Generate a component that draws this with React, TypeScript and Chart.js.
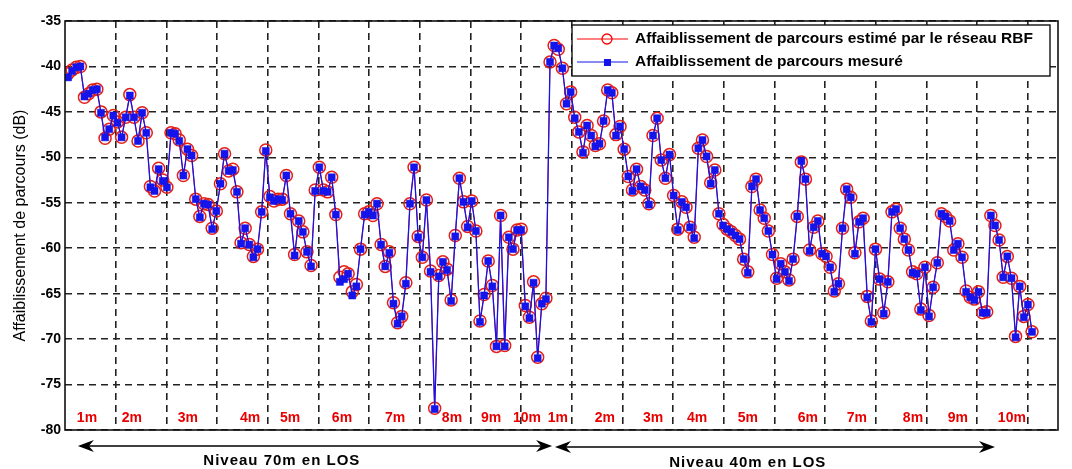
import React, { useEffect, useRef } from "react";
import { Chart, registerables } from "chart.js";

Chart.register(...registerables);

// ---- data (path loss in dB, one value per measurement sample) ----
const measured70m: number[] = [
  -41.2, -40.5, -40.1, -40.0, -43.3, -43.0, -42.6, -42.5, -45.1, -47.8,
  -46.9, -45.4, -46.2, -47.8, -45.6, -43.2, -45.6, -48.2, -45.1, -47.3,
  -53.3, -53.7, -51.3, -52.6, -53.3, -47.3, -47.4, -48.2, -52.0, -49.1,
  -49.8, -54.6, -56.6, -55.1, -55.2, -57.9, -55.9, -52.9, -49.6, -51.5,
  -51.4,
  -53.8, -59.5, -57.8, -59.6, -61.0, -60.1, -56.0, -49.3, -54.4, -54.8,
  -54.6, -54.7, -52.0, -56.2, -60.8, -57.0, -58.2, -60.4, -62.0, -53.7,
  -51.1, -53.7, -53.8, -52.2, -56.3, -63.7, -63.4, -62.8, -65.2, -64.2,
  -60.1, -56.3, -56.0, -56.4, -55.1, -59.6, -62.0, -60.5, -66.1, -68.3,
  -67.5, -63.9, -55.1, -51.1, -58.8, -61.0, -54.7, -62.6, -77.7, -63.1,
  -61.5, -62.4, -65.8, -58.7, -52.3, -54.9, -57.7, -54.8, -58.1, -68.1,
  -65.2, -61.4, -64.2, -70.8, -56.4, -70.8, -58.8, -60.1, -58.0, -58.0,
  -66.4, -67.7, -63.8, -72.1, -66.1, -65.6,
];

const measured40m: number[] = [
  -39.5, -37.7, -38.0, -40.2, -44.1, -42.8, -45.7, -47.2, -49.5, -46.5,
  -47.6, -48.8, -48.5, -46.0, -42.6, -42.9, -47.6, -46.6, -49.1, -52.1,
  -53.7, -51.3, -53.2, -53.6, -55.2, -47.6, -45.7, -50.3, -52.3, -49.7,
  -54.2, -58.0, -54.9, -55.5, -57.7, -58.9, -49.0, -48.1, -49.9, -52.9,
  -51.4, -56.2, -57.5,
  -57.9, -58.2, -58.6, -59.0, -61.2, -62.7, -53.2, -52.4, -55.8, -56.7,
  -58.1, -60.7, -63.4, -61.7, -62.6, -63.6, -61.2, -56.5, -50.4, -52.4,
  -60.3, -57.7, -57.0, -60.6, -60.9, -62.1, -64.8, -63.9, -57.8, -53.5,
  -54.4, -60.6, -57.1, -56.7, -65.4, -68.1, -60.1, -63.4, -67.2, -63.7,
  -56.0,
  -55.7, -57.8, -59.0, -60.2, -62.7, -62.8, -66.8, -62.1, -67.5, -64.3,
  -61.6, -56.2, -56.5, -57.0, -60.2, -59.5, -61.0, -64.8, -65.4, -65.7,
  -64.8, -67.1, -67.1, -56.4, -57.5, -59.1, -63.2, -60.9, -63.3, -69.8,
  -64.2, -67.6, -66.2, -69.2,
];

const estimated70m: number[] = [
  -40.8, -40.4, -40.1, -40.0, -43.4, -43.0, -42.6, -42.5, -45.0, -47.9,
  -46.9, -45.4, -46.1, -47.8, -45.6, -43.1, -45.6, -48.2, -45.1, -47.3,
  -53.2, -53.7, -51.2, -52.5, -53.3, -47.3, -47.4, -48.1, -52.0, -49.1,
  -49.8, -54.6, -56.5, -55.1, -55.2, -57.8, -55.9, -52.9, -49.6, -51.5,
  -51.3,
  -53.8, -59.4, -57.8, -59.6, -60.9, -60.1, -56.0, -49.2, -54.3, -54.8,
  -54.6, -54.6, -52.0, -56.2, -60.7, -57.0, -58.2, -60.4, -61.9, -53.6,
  -51.1, -53.6, -53.8, -52.2, -56.3, -63.2, -62.6, -62.8, -64.8, -64.0,
  -60.1, -56.2, -56.0, -56.4, -55.1, -59.6, -62.0, -60.4, -66.0, -68.2,
  -67.5, -63.8, -55.1, -51.1, -58.7, -61.0, -54.7, -62.5, -77.6, -63.0,
  -61.5, -62.3, -65.7, -58.6, -52.3, -54.9, -57.6, -54.8, -58.1, -68.0,
  -65.1, -61.4, -64.1, -70.8, -56.4, -70.7, -58.8, -60.1, -58.0, -57.9,
  -66.3, -67.6, -63.7, -72.0, -66.1, -65.5,
];

const estimated40m: number[] = [
  -39.5, -37.7, -38.1, -40.2, -44.1, -42.8, -45.6, -47.2, -49.4, -46.5,
  -47.6, -48.7, -48.5, -46.0, -42.6, -42.9, -47.5, -46.6, -49.1, -52.1,
  -53.6, -51.3, -53.2, -53.6, -55.1, -47.6, -45.7, -50.3, -52.3, -49.7,
  -54.2, -57.9, -54.9, -55.5, -57.7, -58.8, -49.0, -48.1, -49.9, -52.8,
  -51.4, -56.2, -57.4,
  -57.9, -58.2, -58.6, -59.0, -61.2, -62.6, -53.2, -52.4, -55.8, -56.7,
  -58.1, -60.7, -63.3, -61.7, -62.6, -63.5, -61.2, -56.5, -50.5, -52.4,
  -60.2, -57.7, -57.0, -60.6, -60.9, -62.1, -64.7, -63.9, -57.8, -53.5,
  -54.4, -60.5, -57.1, -56.7, -65.3, -68.0, -60.1, -63.4, -67.1, -63.7,
  -56.0,
  -55.7, -57.8, -59.0, -60.2, -62.6, -62.8, -66.7, -62.1, -67.4, -64.3,
  -61.6, -56.2, -56.5, -57.0, -60.2, -59.5, -61.0, -64.7, -65.4, -65.6,
  -64.8, -67.1, -67.0, -56.4, -57.5, -59.1, -63.2, -60.9, -63.3, -69.7,
  -64.2, -67.5, -66.2, -69.2,
];

const seriesNames: string[] = [
  "Affaiblissement de parcours estimé par le réseau RBF",
  "Affaiblissement de parcours mesuré",
];
const yAxisTitle = "Affaiblissement de parcours (dB)";
const yTickValues: number[] = [-80, -75, -70, -65, -60, -55, -50, -45, -40, -35];

// distance labels (per level) and their centre, in sample-index units
const distanceLabels: string[] = ["1m", "2m", "3m", "4m", "5m", "6m", "7m", "8m", "9m", "10m"];
const distanceCentres70m: number[] = [4.6, 15.5, 29.1, 44.2, 53.9, 66.5, 79.4, 93.2, 102.7, 111.4];
const distanceCentres40m: number[] = [118.9, 130.3, 142.0, 152.7, 165.0, 179.6, 191.5, 205.1, 216.0, 229.1];
const distanceLabelLevel = -78.7;

// level annotations below the axis (sample-index units)
const levelTitles: string[] = ["Niveau 70m en LOS", "Niveau 40m en LOS"];
const levelSpans: number[][] = [
  [2.4, 117.5],
  [118.2, 225.0],
];
const levelTitleCentres: number[] = [51.9, 165.0];

// axis range
const X_MIN = -0.73;
const X_MAX = 240.3;
const X_GRID_STEP = 12.3;
const Y_MIN = -80;
const Y_MAX = -35;

const FONT = '"Liberation Sans", Arial, Helvetica, sans-serif';

function toPoints(values: number[]) {
  return values.map((v, i) => ({ x: i, y: v }));
}

const overlayPlugin = {
  id: "overlay",
  afterDraw(chart: any) {
    const { ctx, chartArea: a, scales } = chart;
    const x = scales.x;
    const y = scales.y;
    ctx.save();
    ctx.setLineDash([]);

    // axes box
    ctx.strokeStyle = "#111";
    ctx.lineWidth = 1.6;
    ctx.strokeRect(a.left, a.top, a.right - a.left, a.bottom - a.top);

    // y-axis title
    ctx.save();
    ctx.translate(21, (a.top + a.bottom) / 2);
    ctx.rotate(-Math.PI / 2);
    ctx.fillStyle = "#000";
    ctx.font = `16px ${FONT}`;
    ctx.textAlign = "center";
    ctx.textBaseline = "middle";
    ctx.fillText(yAxisTitle, 0, 0);
    ctx.restore();

    // red distance labels
    ctx.fillStyle = "rgb(232,0,0)";
    ctx.font = `bold 14px ${FONT}`;
    ctx.textAlign = "center";
    ctx.textBaseline = "middle";
    const ly = y.getPixelForValue(distanceLabelLevel);
    [distanceCentres70m, distanceCentres40m].forEach((centres) => {
      centres.forEach((c, i) => {
        ctx.fillText(distanceLabels[i], x.getPixelForValue(c), ly);
      });
    });

    // level arrows and captions
    ctx.strokeStyle = "#000";
    ctx.fillStyle = "#000";
    ctx.lineWidth = 1.6;
    const head = (tipX: number, tipY: number, dir: number) => {
      ctx.beginPath();
      ctx.moveTo(tipX, tipY);
      ctx.lineTo(tipX - dir * 16, tipY - 6);
      ctx.lineTo(tipX - dir * 11, tipY);
      ctx.lineTo(tipX - dir * 16, tipY + 6);
      ctx.closePath();
      ctx.fill();
    };
    levelSpans.forEach((span, i) => {
      const ay = a.bottom + 16 + i;
      const x1 = x.getPixelForValue(span[0]);
      const x2 = x.getPixelForValue(span[1]);
      ctx.beginPath();
      ctx.moveTo(x1 + 6, ay);
      ctx.lineTo(x2 - 6, ay);
      ctx.stroke();
      head(x1, ay, -1);
      head(x2, ay, 1);
    });
    ctx.font = `bold 15px ${FONT}`;
    (ctx as any).letterSpacing = "1px";
    ctx.textAlign = "center";
    ctx.textBaseline = "middle";
    levelTitles.forEach((t, i) => {
      ctx.fillText(t, x.getPixelForValue(levelTitleCentres[i]), a.bottom + 31 + i * 2);
    });
    (ctx as any).letterSpacing = "0px";

    // legend box
    const bx = a.right - 486;
    const by = a.top + 4;
    const bw = 478;
    const bh = 51;
    ctx.fillStyle = "#fff";
    ctx.fillRect(bx, by, bw, bh);
    ctx.strokeStyle = "#111";
    ctx.lineWidth = 1.4;
    ctx.strokeRect(bx, by, bw, bh);
    const rows = [by + 14, by + 37];
    // row 1: red line + open circle
    ctx.strokeStyle = "rgb(255,0,0)";
    ctx.lineWidth = 1;
    ctx.beginPath();
    ctx.moveTo(bx + 5, rows[0]);
    ctx.lineTo(bx + 56, rows[0]);
    ctx.stroke();
    ctx.lineWidth = 1.3;
    ctx.beginPath();
    ctx.arc(bx + 35, rows[0], 5, 0, Math.PI * 2);
    ctx.stroke();
    // row 2: blue line + filled square
    ctx.strokeStyle = "rgb(20,20,235)";
    ctx.fillStyle = "rgb(20,20,235)";
    ctx.lineWidth = 1;
    ctx.beginPath();
    ctx.moveTo(bx + 5, rows[1]);
    ctx.lineTo(bx + 56, rows[1]);
    ctx.stroke();
    ctx.fillRect(bx + 32, rows[1] - 3, 7, 7);
    // texts
    ctx.fillStyle = "#000";
    ctx.font = `bold 15.5px ${FONT}`;
    ctx.textAlign = "left";
    ctx.textBaseline = "middle";
    ctx.fillText(seriesNames[0], bx + 63, rows[0]);
    ctx.fillText(seriesNames[1], bx + 63, rows[1]);

    ctx.restore();
  },
};

export default function App() {
  const canvasRef = useRef<HTMLCanvasElement | null>(null);

  useEffect(() => {
    const canvas = canvasRef.current;
    if (!canvas) return;
    const measured = toPoints([...measured70m, ...measured40m]);
    const estimated = toPoints([...estimated70m, ...estimated40m]);

    const chart = new Chart(canvas, {
      type: "line",
      data: {
        datasets: [
          {
            label: seriesNames[1],
            data: measured,
            borderColor: "rgb(20,20,235)",
            borderWidth: 1.3,
            pointStyle: "rect",
            pointRadius: 5,
            pointBackgroundColor: "rgb(20,20,235)",
            pointBorderColor: "rgb(20,20,235)",
            pointBorderWidth: 0.5,
            tension: 0,
          },
          {
            label: seriesNames[0],
            data: estimated,
            borderColor: "rgb(255,0,0)",
            borderWidth: 1,
            pointStyle: "circle",
            pointRadius: 6,
            pointBackgroundColor: "rgba(255,255,255,0)",
            pointBorderColor: "rgb(230,30,20)",
            pointBorderWidth: 1.5,
            tension: 0,
          },
        ],
      },
      options: {
        animation: false,
        responsive: false,
        maintainAspectRatio: false,
        layout: { padding: { top: 21, right: 14, left: 0, bottom: 0 } },
        plugins: {
          legend: { display: false },
          tooltip: { enabled: false },
          title: { display: false },
        },
        scales: {
          x: {
            type: "linear",
            min: X_MIN,
            max: X_MAX,
            afterBuildTicks: (scale: any) => {
              const ticks = [];
              for (let k = 1; X_MIN + k * X_GRID_STEP < X_MAX - 0.5; k++) {
                ticks.push({ value: X_MIN + k * X_GRID_STEP });
              }
              scale.ticks = ticks;
            },
            afterFit: (scale: any) => {
              scale.height = 39;
            },
            ticks: { display: false },
            grid: {
              color: "#222",
              lineWidth: 1.6,
              drawTicks: false,
            },
            border: { display: false, dash: [7, 5] },
          },
          y: {
            type: "linear",
            min: Y_MIN,
            max: Y_MAX,
            afterBuildTicks: (scale: any) => {
              scale.ticks = yTickValues.map((v) => ({ value: v }));
            },
            afterFit: (scale: any) => {
              scale.width = 65;
            },
            ticks: {
              color: "#000",
              padding: 4,
              font: { family: FONT, size: 14, weight: "bold" },
            },
            grid: {
              color: "#222",
              lineWidth: 1.6,
              drawTicks: false,
            },
            border: { display: false, dash: [7, 5] },
          },
        },
      },
      plugins: [overlayPlugin],
    } as any);

    return () => chart.destroy();
  }, []);

  return (
    <div style={{ position: "absolute", left: 0, top: 0, width: 1072, height: 469, background: "#fff" }}>
      <canvas ref={canvasRef} width={1072} height={469} />
    </div>
  );
}
